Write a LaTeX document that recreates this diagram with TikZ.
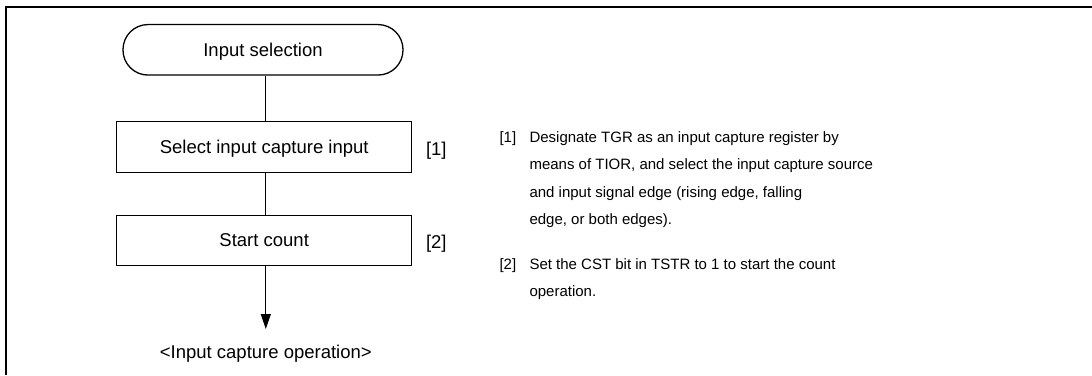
\documentclass[tikz,border=0pt]{standalone}
\usepackage{fontspec}
\setmainfont{Liberation Sans}
\usetikzlibrary{arrows.meta}
\begin{document}
\begin{tikzpicture}[x=1pt,y=-1pt,
  flowtext/.style={font=\fontsize{18.5}{22}\selectfont, text height=13pt, text depth=0pt},
  procbox/.style={draw, line width=1.3pt, minimum width=295pt, minimum height=50.5pt, inner sep=0pt, flowtext},
  termbox/.style={draw, line width=1.3pt, rounded corners=25pt, minimum width=280pt, minimum height=50.5pt, inner sep=0pt, flowtext},
  conn/.style={line width=1pt},
  stepno/.style={flowtext, inner sep=0pt},
  note/.style={font=\fontsize{15}{18}\selectfont, anchor=base west, inner sep=0pt},
  frameline/.style={line width=2pt}
]
\useasboundingbox (0,0) rectangle (1092,375);
% frame
\coordinate (fbl) at (5.7,375);
\coordinate (ftl) at (5.7,6.7);
\coordinate (ftr) at (1092,6.7);
\draw[frameline] (fbl) -- (ftl) -- (ftr);

% flowchart
\node[termbox] (term) at (263,49.8) {Input selection};
\node[procbox] (b1) at (264.2,147) {Select input capture input};
\node[procbox] (b2) at (264.2,240.4) {Start count};
\node[stepno] (n1) at (436.3,148.5) {[1]};
\node[stepno] (n2) at (436.3,241.9) {[2]};
\node[flowtext, inner sep=0pt] (out) at (265.8,352) {<Input capture operation>};
\coordinate (tip) at (265.8,329);

\draw[conn] (b1.north -| 265.8,0) -- (term.south -| 265.8,0);
\draw[conn] (b1.south -| 265.8,0) -- (b2.north -| 265.8,0);
\draw[conn, -{Triangle[length=15pt, width=10pt]}] (b2.south -| 265.8,0) -- (tip);

% notes
\node[note] (t1n) at (499.3,142.3) {[1]};
\node[note] (t1a) at (529.3,142.3) {Designate TGR as an input capture register by};
\node[note] (t1b) at (529.3,169.8) {means of TIOR, and select the input capture source};
\node[note] (t1c) at (529.3,197.3) {and input signal edge (rising edge, falling};
\node[note] (t1d) at (529.3,224.8) {edge, or both edges).};
\node[note] (t2n) at (499.3,269.3) {[2]};
\node[note] (t2a) at (529.3,269.3) {Set the CST bit in TSTR to 1 to start the count};
\node[note] (t2b) at (529.3,296.8) {operation.};
\end{tikzpicture}
\end{document}
